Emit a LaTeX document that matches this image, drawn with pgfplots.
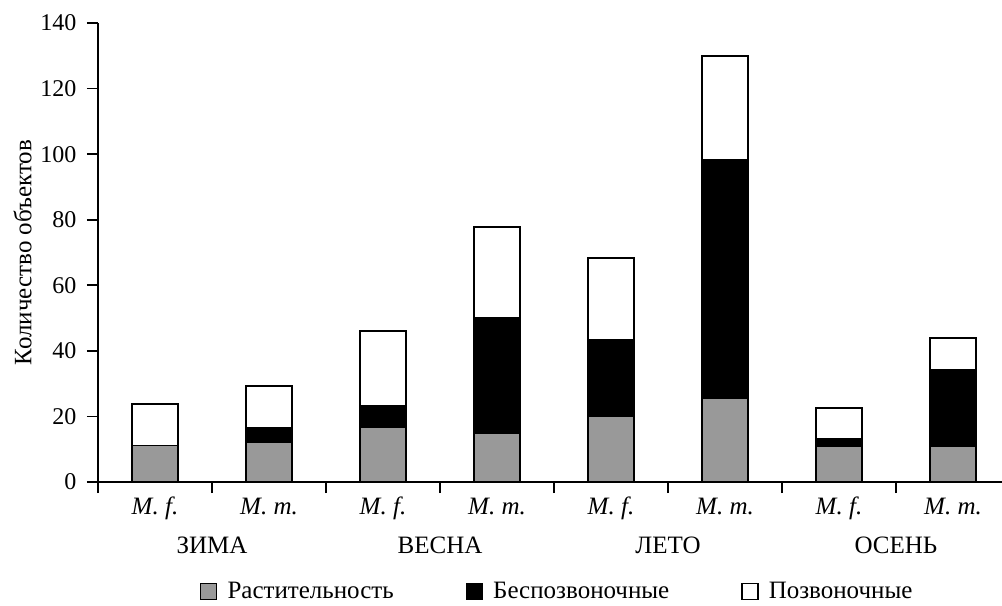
\documentclass[border=0pt]{standalone}
\usepackage{pgfplots}
\pgfplotsset{compat=1.18}
\usepackage{fontspec}
\setmainfont{Liberation Serif}
\definecolor{vegcol}{RGB}{153,153,153}
\newcommand{\fontA}{\fontsize{24}{28}\selectfont}
\newcommand{\fontB}{\fontsize{25}{29}\selectfont}
\begin{document}
\begin{tikzpicture}
\begin{axis}[
  name=ax,
  clip=false,
  scale only axis, width=904pt, height=459pt,
  font=\fontA,
  /pgf/number format/assume math mode=true,
  ybar stacked, bar width=46pt,
  xmin=-0.5, xmax=7.43, ymin=0, ymax=140,
  axis x line=bottom, axis y line=left,
  axis line style={-, line width=1.6pt, black},
  tick align=outside,
  major tick length=11pt,
  tick style={black, line width=1.6pt},
  xtick={-0.5,0.5,...,6.5}, xticklabels={},
  extra x ticks={0,1,2,3,4,5,6,7},
  extra x tick labels={\textit{M. f.},\textit{M. m.},\textit{M. f.},\textit{M. m.},\textit{M. f.},\textit{M. m.},\textit{M. f.},\textit{M. m.}},
  extra x tick style={major tick length=0pt, tick style={draw=none}, xticklabel style={anchor=base, yshift=-32pt}},
  ytick={0,20,...,140},
  yticklabel style={font=\fontA, xshift=-7pt},
  xticklabel style={font=\fontB},
  ylabel={Количество объектов},
  ylabel style={font=\fontB},
  ylabel shift=2pt,
  legend style={draw=none, font=\fontB, at={(0.508,-0.238)}, anchor=center,
    legend columns=3, /tikz/every even column/.append style={column sep=70pt}},
]
\addplot[fill=vegcol, draw=black, line width=1.6pt,
  legend image code/.code={\draw[fill=vegcol,draw=black,line width=1.3pt] (0pt,-8pt) rectangle (16pt,8pt); \path (24pt,0pt);}]
  coordinates {(0,11.1) (1,12.1) (2,16.8) (3,15.0) (4,20.1) (5,25.5) (6,10.8) (7,10.8)};
\addplot[fill=black, draw=black, line width=1.6pt,
  legend image code/.code={\draw[fill=black,draw=black,line width=1.3pt] (0pt,-8pt) rectangle (16pt,8pt); \path (24pt,0pt);}]
  coordinates {(0,0) (1,4.5) (2,6.4) (3,35.0) (4,23.2) (5,72.7) (6,2.5) (7,23.4)};
\addplot[fill=white, draw=black, line width=1.6pt,
  legend image code/.code={\draw[fill=white,draw=black,line width=1.3pt] (0pt,-8pt) rectangle (16pt,8pt); \path (24pt,0pt);}]
  coordinates {(0,12.7) (1,12.7) (2,22.8) (3,27.8) (4,25.0) (5,31.7) (6,9.2) (7,9.8)};
\legend{Растительность, Беспозвоночные, Позвоночные}
\node[font=\fontB] at (axis cs:0.5,0) [yshift=-63pt] {ЗИМА};
\node[font=\fontB] at (axis cs:2.5,0) [yshift=-63pt] {ВЕСНА};
\node[font=\fontB] at (axis cs:4.5,0) [yshift=-63pt] {ЛЕТО};
\node[font=\fontB] at (axis cs:6.5,0) [yshift=-63pt] {ОСЕНЬ};
\end{axis}
\pgfresetboundingbox
\useasboundingbox ([xshift=-98pt,yshift=-123pt]ax.south west) rectangle ([yshift=23pt]ax.north east);
\end{tikzpicture}
\end{document}
